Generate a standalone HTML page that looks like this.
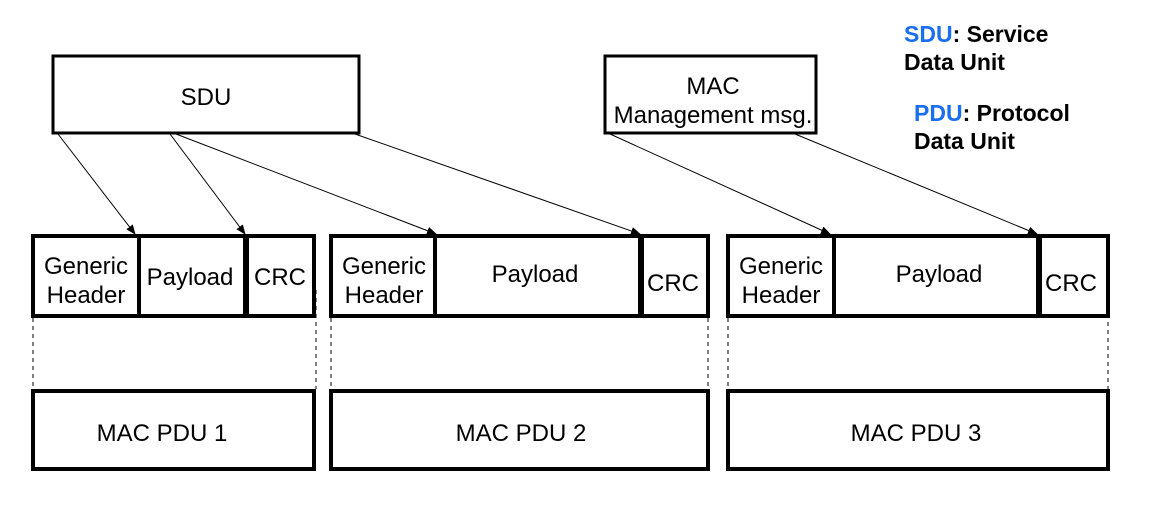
<!DOCTYPE html>
<html><head><style>
body{margin:0;background:#fff;}
svg{display:block;font-family:"Liberation Sans",Arial,sans-serif;}
</style></head><body>
<svg width="1149" height="509" viewBox="0 0 1149 509">
<defs><marker id="a" markerWidth="10" markerHeight="8" refX="9" refY="4" orient="auto" markerUnits="userSpaceOnUse"><path d="M0,0L10,4L0,8z" fill="#000"/></marker></defs>
<g fill="none" stroke="#000" stroke-width="3">
<rect x="53" y="56" width="306" height="77"/>
<rect x="605" y="56" width="211" height="77"/>
</g>
<g fill="none" stroke="#000" stroke-width="4">
<rect x="33" y="236" width="281" height="80"/>
<rect x="331" y="236" width="377" height="80"/>
<rect x="728" y="236" width="380" height="80"/>
<rect x="33" y="391" width="281" height="78"/>
<rect x="331" y="391" width="377" height="78"/>
<rect x="728" y="391" width="380" height="78"/>
<line x1="139" y1="236" x2="139" y2="316"/>
<line x1="435" y1="236" x2="435" y2="316"/>
<line x1="834" y1="236" x2="834" y2="316"/>
</g>
<g stroke="#000" stroke-width="6">
<line x1="246" y1="236" x2="246" y2="316"/>
<line x1="641" y1="236" x2="641" y2="316"/>
<line x1="1039" y1="236" x2="1039" y2="316"/>
</g>
<g stroke="#000" stroke-width="1" stroke-dasharray="4,4">
<line x1="33" y1="318" x2="33" y2="389"/>
<line x1="316" y1="290" x2="316" y2="389"/>
<line x1="331" y1="318" x2="331" y2="389"/>
<line x1="708" y1="318" x2="708" y2="389"/>
<line x1="728" y1="318" x2="728" y2="389"/>
<line x1="1108" y1="290" x2="1108" y2="389"/>
</g>
<g stroke="#000" stroke-width="1" marker-end="url(#a)">
<line x1="58" y1="134" x2="135" y2="234"/>
<line x1="170" y1="134" x2="245" y2="234"/>
<line x1="176" y1="134" x2="436" y2="234"/>
<line x1="355" y1="134" x2="640" y2="234"/>
<line x1="610" y1="134" x2="830" y2="234"/>
<line x1="795" y1="134" x2="1037" y2="234"/>
</g>
<g font-size="24" text-anchor="middle" fill="#000">
<text x="206" y="105">SDU</text>
<text x="713" y="94">MAC</text>
<text x="713" y="123">Management msg.</text>
<text x="86" y="274">Generic</text><text x="86" y="303">Header</text>
<text x="190" y="285">Payload</text>
<text x="280" y="285">CRC</text>
<text x="384" y="274">Generic</text><text x="384" y="303">Header</text>
<text x="535" y="282">Payload</text>
<text x="673" y="291">CRC</text>
<text x="781" y="274">Generic</text><text x="781" y="303">Header</text>
<text x="939" y="282">Payload</text>
<text x="1071" y="291">CRC</text>
<text x="162" y="441">MAC PDU 1</text>
<text x="521" y="441">MAC PDU 2</text>
<text x="916" y="441">MAC PDU 3</text>
</g>
<g font-size="23" font-weight="bold" fill="#000">
<text x="904" y="42"><tspan fill="#1a6ef0">SDU</tspan>: Service</text>
<text x="904" y="70">Data Unit</text>
<text x="914" y="121"><tspan fill="#1a6ef0">PDU</tspan>: Protocol</text>
<text x="914" y="149">Data Unit</text>
</g>
</svg>
</body></html>
